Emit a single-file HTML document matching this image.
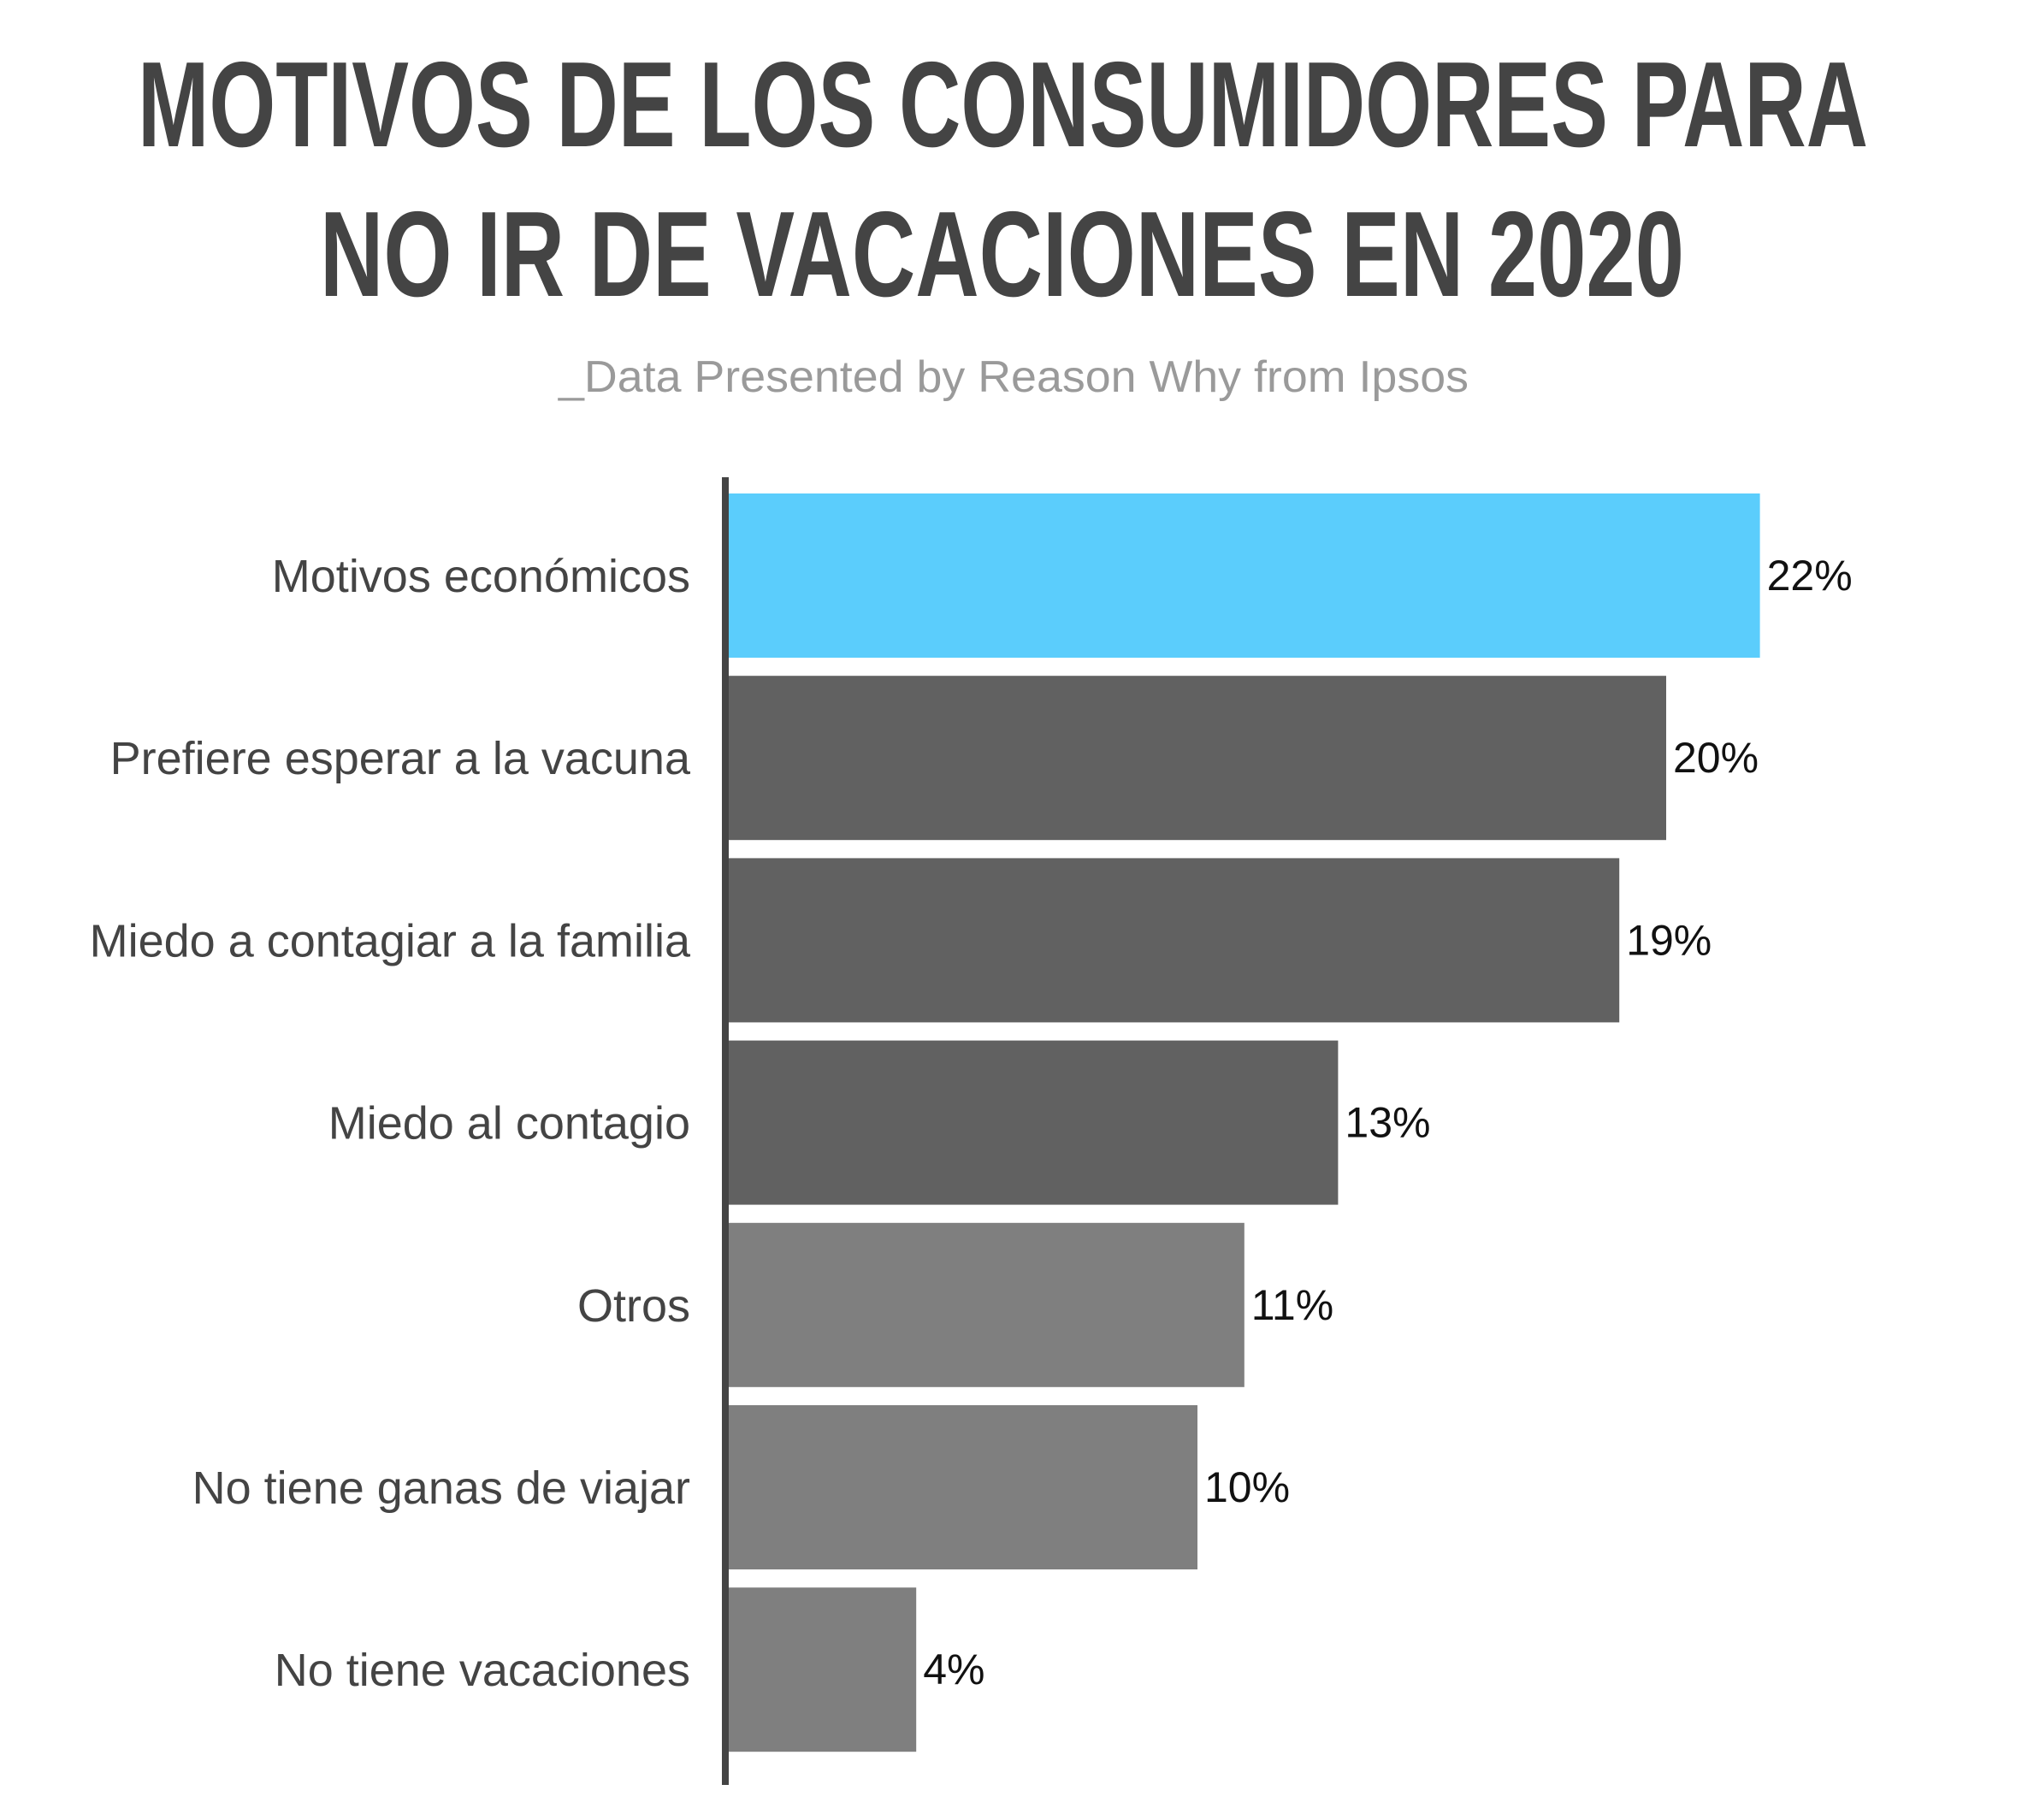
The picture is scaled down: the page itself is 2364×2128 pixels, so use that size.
<!DOCTYPE html>
<html><head><meta charset="utf-8"><style>
html,body{margin:0;padding:0;background:#fff;}
svg{display:block;}
</style></head><body>
<svg id="chart" width="2364" height="2128" viewBox="0 0 2364 2128" xmlns="http://www.w3.org/2000/svg">
<rect width="2364" height="2128" fill="#fff"/>
<text x="161" y="171" font-family="Liberation Sans, sans-serif" font-weight="bold" font-size="142" fill="#444" textLength="2023" lengthAdjust="spacingAndGlyphs">MOTIVOS DE LOS CONSUMIDORES PARA</text>
<text x="374" y="346" font-family="Liberation Sans, sans-serif" font-weight="bold" font-size="142" fill="#444" textLength="1595" lengthAdjust="spacingAndGlyphs">NO IR DE VACACIONES EN 2020</text>
<text x="653" y="458" font-family="Liberation Sans, sans-serif" font-size="52" fill="#9a9a9a" textLength="1064" lengthAdjust="spacingAndGlyphs">_Data Presented by Reason Why from Ipsos</text>
<g id="bars"></g>
<rect x="844" y="558" width="8" height="1529" fill="#444"/>
</svg>
<script>
const categories = ["Motivos económicos","Prefiere esperar a la vacuna","Miedo a contagiar a la familia","Miedo al contagio","Otros","No tiene ganas de viajar","No tiene vacaciones"];
const values = [22,20,19,13,11,10,4];
const valueLabels = ["22%","20%","19%","13%","11%","10%","4%"];
const barColors = ["#5bcdfc","#616161","#616161","#616161","#7f7f7f","#7f7f7f","#7f7f7f"];

const NS = "http://www.w3.org/2000/svg";
const x0 = 852, pxPerPct = 54.8;
const top0 = 577, pitch = 213.2, bh = 192;
function xScale(v){ return x0 + v * pxPerPct; }
function yBand(i){ return top0 + i * pitch; }
const g = document.getElementById('bars');
categories.forEach((c, i) => {
  const y = yBand(i);
  const r = document.createElementNS(NS, 'rect');
  
  
  r.setAttribute('x', x0);
  r.setAttribute('y', y);
  r.setAttribute('width', xScale(values[i]) - x0);
  r.setAttribute('height', bh);
  r.setAttribute('fill', barColors[i]);
  g.appendChild(r);
  const cy = y + bh / 2;
  const t = document.createElementNS(NS, 'text');
  
  
  t.setAttribute('x', 807);
  t.setAttribute('y', cy + 19);
  t.setAttribute('text-anchor', 'end');
  t.setAttribute('font-family', 'Liberation Sans, sans-serif');
  t.setAttribute('font-size', '54');
  t.setAttribute('fill', '#444');
  t.textContent = c;
  g.appendChild(t);
  const v = document.createElementNS(NS, 'text');
  
  
  v.setAttribute('x', xScale(values[i]) + 8);
  v.setAttribute('y', cy + 17);
  v.setAttribute('font-family', 'Liberation Sans, sans-serif');
  v.setAttribute('font-size', '50');
  v.setAttribute('fill', '#111');
  v.textContent = valueLabels[i];
  g.appendChild(v);
});
</script>
</body></html>
